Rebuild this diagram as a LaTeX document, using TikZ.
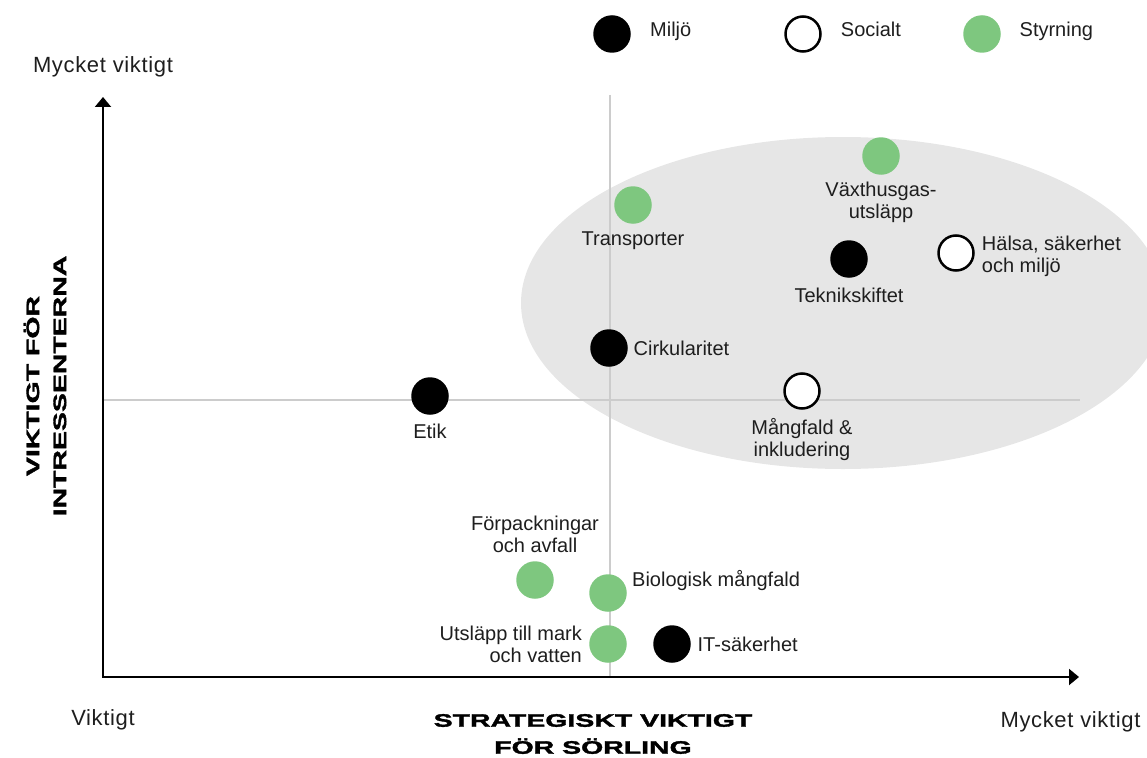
\documentclass[tikz,border=0pt]{standalone}
\usepackage{fontspec}
\setmainfont{Liberation Sans}
\newfontfamily\titlefont[FakeStretch=1.58,FakeBold=2]{Liberation Sans Bold}
\newfontfamily\endfont[LetterSpace=3]{Liberation Sans}
\usetikzlibrary{positioning,arrows.meta}
\definecolor{styrgreen}{HTML}{7EC77F}
\definecolor{ovalgray}{HTML}{E6E6E6}
\definecolor{guidegray}{HTML}{CCCCCC}
\definecolor{textgray}{HTML}{1E1E1E}
\tikzset{
  miljo/.style={circle,fill=black,minimum size=37.5pt,inner sep=0pt},
  social/.style={circle,draw=black,line width=2.5pt,fill=white,minimum size=35pt,inner sep=0pt},
  styr/.style={circle,fill=styrgreen,minimum size=37.5pt,inner sep=0pt},
  lbl/.style={inner sep=0pt,text=textgray,font={\fontsize{20}{22}\selectfont}},
  lblone/.style={lbl,text height=16pt,text depth=2pt},
  lbltwo/.style={lbl,align=center},
  endlbl/.style={inner sep=0pt,text=textgray,font={\endfont\fontsize{22}{24}\selectfont},text height=17.6pt,text depth=2.2pt},
  axtitle/.style={inner sep=0pt,align=center,font={\titlefont\fontsize{18}{27}\selectfont}},
  axis/.style={line width=2pt,>={Triangle[width=16pt,length=10pt]},<->},
  guide/.style={draw=guidegray,line width=1.8pt}
}
\begin{document}
\begin{tikzpicture}[x=1pt,y=-1pt]
        \useasboundingbox (0,0) rectangle (1147,757);
        %% Oval
        \begin{scope}
            \clip (0,0) rectangle (1147,757);
            \fill[ovalgray] (843,303) ellipse [x radius=322,y radius=166];
        \end{scope}
        %% Guides
        \draw[guide] (610,95) -- (610,677);
        \draw[guide] (103,400) -- (1080,400);
        %% Axes
        \coordinate (Y) at (103,97);
        \coordinate (O) at (103,677);
        \coordinate (X) at (1079,677);
        \draw[axis] (Y) -- (O) -- (X);
        \node[endlbl,above=22pt of Y] (Ytop) {Mycket viktigt};
        \node[endlbl,below=31pt of O] (Olow) {Viktigt};
        \node[endlbl,below=33pt of X,xshift=-8.5pt] (Xtop) {Mycket viktigt};
        \node[axtitle,rotate=90] (Ytitle) at (45,386) {VIKTIGT FÖR\\INTRESSENTERNA};
        \node[axtitle] (Xtitle) at (593,734) {STRATEGISKT VIKTIGT\\FÖR SÖRLING};
        %% Legend
        \node[miljo] (Lm) at (612,34) {};
        \node[lblone,right=19pt of Lm,yshift=4pt] (Lmt) {Miljö};
        \node[social] (Ls) at (803,34) {};
        \node[lblone,right=19pt of Ls,yshift=4pt] (Lst) {Socialt};
        \node[styr] (Lg) at (982,34) {};
        \node[lblone,right=18.5pt of Lg,yshift=4pt] (Lgt) {Styrning};
        %% Points
        \node[styr] (Vx) at (881,156) {};
        \node[lbltwo,below=7pt of Vx] (Vxt) {Växthusgas-\\utsläpp};
        \node[styr] (Tr) at (633,205) {};
        \node[lblone,below=5pt of Tr] (Trt) {Transporter};
        \node[miljo] (Tk) at (849,259) {};
        \node[lblone,below=8pt of Tk] (Tkt) {Teknikskiftet};
        \node[social] (Hs) at (956,253) {};
        \node[lbl,align=left,right=7pt of Hs,yshift=-3pt] (Hst) {Hälsa, säkerhet\\och miljö};
        \node[miljo] (Ci) at (609,348) {};
        \node[lblone,right=5.5pt of Ci] (Cit) {Cirkularitet};
        \node[miljo] (Et) at (430,396) {};
        \node[lblone,below=7pt of Et] (Ett) {Etik};
        \node[social] (Mf) at (802,391) {};
        \node[lbltwo,below=8pt of Mf] (Mft) {Mångfald \&\\inkludering};
        \node[styr] (Fp) at (535,580) {};
        \node[lbltwo,above=8.5pt of Fp] (Fpt) {Förpackningar\\och avfall};
        \node[styr] (Bm) at (608,593) {};
        \node[lblone,right=5pt of Bm,yshift=14pt] (Bmt) {Biologisk mångfald};
        \node[styr] (Us) at (608,644) {};
        \node[lbl,align=right,left=7pt of Us] (Ust) {Utsläpp till mark\\och vatten};
        \node[miljo] (It) at (672,644) {};
        \node[lblone,right=6.5pt of It] (Itt) {IT-säkerhet};
    \end{tikzpicture}
\end{document}
